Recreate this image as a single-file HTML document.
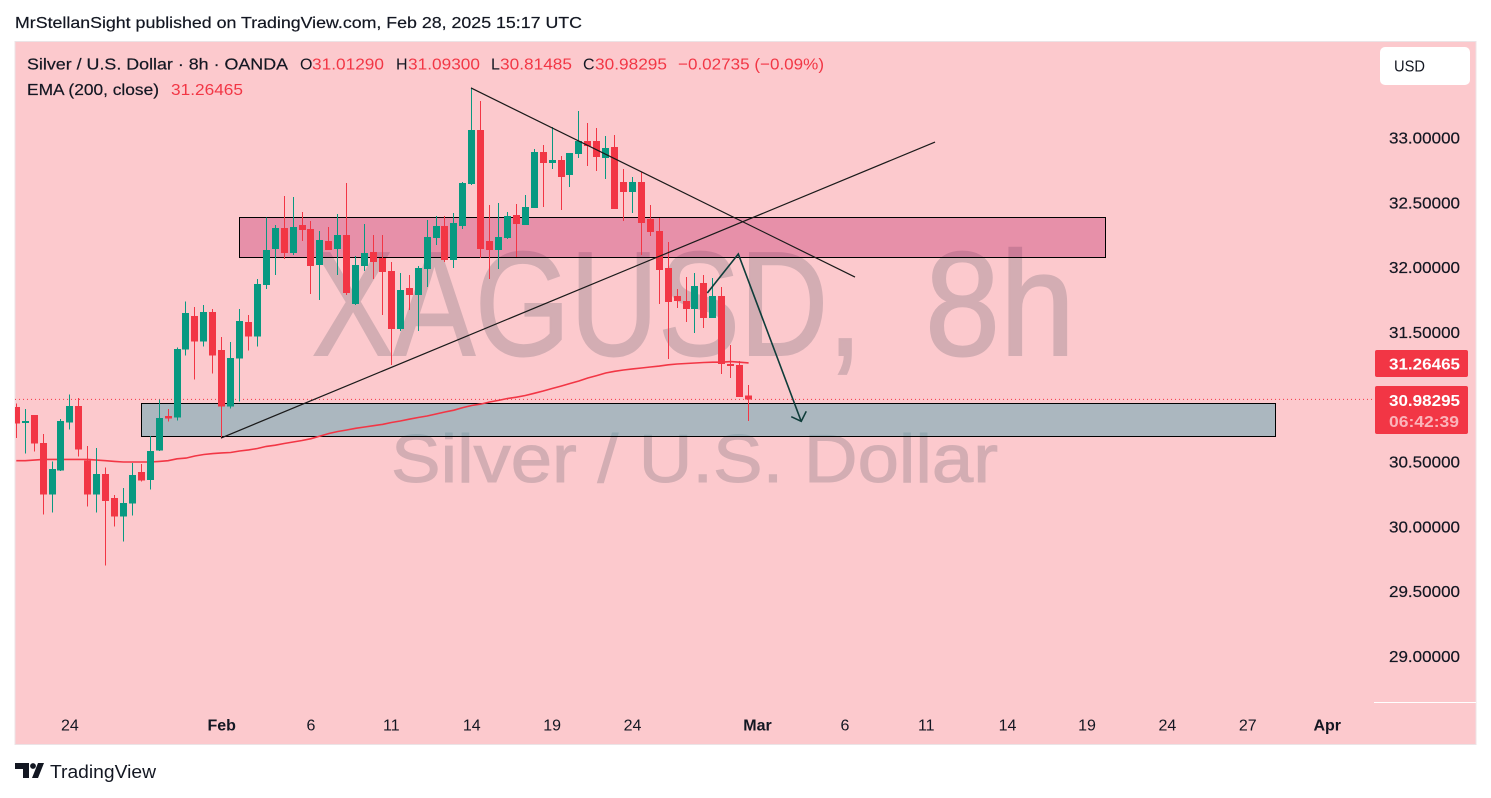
<!DOCTYPE html>
<html lang="en">
<head>
<meta charset="utf-8">
<title>XAGUSD 8h chart</title>
<style>
html,body{margin:0;padding:0;background:#fff;width:1491px;height:798px;overflow:hidden}
svg{display:block}
text{font-family:"Liberation Sans","DejaVu Sans",sans-serif}
</style>
</head>
<body>
<svg id="chart" width="1491" height="798" viewBox="0 0 1491 798" xmlns="http://www.w3.org/2000/svg">
  <defs><clipPath id="pane-clip"><rect x="15" y="42" width="1359" height="660"/></clipPath></defs>
  <text x="15" y="28" font-size="16" fill="#131722" stroke="#131722" stroke-width="0.2" textLength="567" lengthAdjust="spacingAndGlyphs">MrStellanSight published on TradingView.com, Feb 28, 2025 15:17 UTC</text>
  <rect x="15" y="41.5" width="1461" height="703" fill="#fcc9cd" stroke="#ece3e6" stroke-width="1"/>
  <g id="watermark">
    <text x="312" y="355" font-size="148" fill="#d3adb3" stroke="#d3adb3" stroke-width="2" textLength="550" lengthAdjust="spacingAndGlyphs">XAGUSD,</text>
    <text x="925" y="355" font-size="148" fill="#d3adb3" stroke="#d3adb3" stroke-width="2" textLength="150" lengthAdjust="spacingAndGlyphs">8h</text>
    <text x="391" y="482" font-size="68" fill="#d3adb3" stroke="#d3adb3" stroke-width="1" textLength="607" lengthAdjust="spacingAndGlyphs">Silver / U.S. Dollar</text>
  </g>
  <g id="zones" clip-path="url(#pane-clip)"></g>
  <line id="last-price-line" x1="15" x2="1372" stroke="#f23645" stroke-width="1" stroke-dasharray="1 3"/>
  <path id="ema-line" fill="none" stroke="#f23645" stroke-width="1.6"/>
  <g id="candles" clip-path="url(#pane-clip)"></g>
  <g id="drawings" clip-path="url(#pane-clip)"></g>

  <text x="27" y="69.5" font-size="16" fill="#131722" stroke="#131722" stroke-width="0.2" textLength="261" lengthAdjust="spacingAndGlyphs">Silver / U.S. Dollar · 8h · OANDA</text>
  <text x="300" y="69.5" font-size="16" fill="#131722">O</text>
  <text x="312" y="69.5" font-size="16" fill="#f23645" textLength="72" lengthAdjust="spacingAndGlyphs">31.01290</text>
  <text x="396" y="69.5" font-size="16" fill="#131722">H</text>
  <text x="408" y="69.5" font-size="16" fill="#f23645" textLength="72" lengthAdjust="spacingAndGlyphs">31.09300</text>
  <text x="491" y="69.5" font-size="16" fill="#131722">L</text>
  <text x="500" y="69.5" font-size="16" fill="#f23645" textLength="72" lengthAdjust="spacingAndGlyphs">30.81485</text>
  <text x="583" y="69.5" font-size="16" fill="#131722">C</text>
  <text x="595" y="69.5" font-size="16" fill="#f23645" textLength="72" lengthAdjust="spacingAndGlyphs">30.98295</text>
  <text x="678" y="69.5" font-size="16" fill="#f23645" textLength="146" lengthAdjust="spacingAndGlyphs">−0.02735 (−0.09%)</text>
  <text x="27" y="95" font-size="16" fill="#131722" stroke="#131722" stroke-width="0.2" textLength="132" lengthAdjust="spacingAndGlyphs">EMA (200, close)</text>
  <text x="171" y="95" font-size="16" fill="#f23645" textLength="72" lengthAdjust="spacingAndGlyphs">31.26465</text>

  <g>
    <rect x="1380" y="47" width="90" height="38" rx="5" fill="#ffffff"/>
    <text x="1394" y="71.5" font-size="16" fill="#131722" textLength="31" lengthAdjust="spacingAndGlyphs">USD</text>
  </g>
  <g id="price-axis"></g>
  <line x1="1374" x2="1476" y1="702.5" y2="702.5" stroke="#ffffff"/>
  <g id="time-axis"></g>

  <g>
    <rect x="1375" y="350" width="93" height="27" rx="2" fill="#f23645"/>
    <text x="1389" y="369.5" font-size="16" font-weight="bold" fill="#fff" textLength="71" lengthAdjust="spacingAndGlyphs">31.26465</text>
  </g>
  <g>
    <rect x="1375" y="386" width="93" height="48" rx="2" fill="#f23645"/>
    <text x="1389" y="406" font-size="16" font-weight="bold" fill="#fff" textLength="71" lengthAdjust="spacingAndGlyphs">30.98295</text>
    <text x="1389" y="427" font-size="16" font-weight="bold" fill="#fbb4ba" textLength="70" lengthAdjust="spacingAndGlyphs">06:42:39</text>
  </g>

  <g>
    <path d="M15 763h14v15h-6v-9h-8z" fill="#131722"/>
    <circle cx="33" cy="766" r="2.9" fill="#131722"/>
    <path d="M38 763h6l-6 15h-6z" fill="#131722"/>
    <text x="50" y="778" font-size="18" fill="#131722" textLength="106" lengthAdjust="spacingAndGlyphs">TradingView</text>
  </g>
</svg>
<script>
const opens=[30.924,30.801,30.863,30.647,30.248,30.433,30.803,30.932,30.510,30.248,30.407,30.222,30.078,30.178,30.423,30.363,30.587,30.855,30.842,31.367,31.627,31.428,31.657,31.364,30.927,31.297,31.580,31.467,31.866,32.144,32.306,32.113,32.329,32.298,32.020,32.205,32.144,32.251,31.719,32.012,32.120,32.074,31.974,31.526,31.843,31.789,31.989,32.228,32.321,32.059,32.321,32.645,33.062,32.205,32.136,32.228,32.406,32.329,32.460,32.892,32.807,32.830,32.715,32.877,32.977,32.977,32.846,32.931,32.660,32.583,32.660,32.375,32.282,31.997,31.781,31.742,31.681,31.881,31.611,31.781,31.256,31.248,31.0129];
const highs=[30.953,30.909,30.863,30.716,30.505,30.830,31.022,30.994,30.624,30.608,30.459,30.245,30.299,30.492,30.485,30.701,30.984,30.909,31.385,31.740,31.696,31.711,31.681,31.465,31.426,31.681,31.634,31.912,32.385,32.329,32.552,32.545,32.429,32.360,32.282,32.313,32.414,32.653,32.090,32.336,32.251,32.251,32.043,31.958,31.943,32.012,32.367,32.398,32.398,32.421,32.660,33.391,33.286,32.483,32.498,32.429,32.491,32.560,32.915,32.946,33.085,32.861,32.884,33.208,33.116,33.077,33.015,33.023,32.761,32.699,32.738,32.483,32.383,32.197,31.835,31.927,31.958,31.943,31.920,31.850,31.403,31.279,31.093];
const lows=[30.687,30.564,30.580,30.093,30.109,30.430,30.749,30.541,30.155,30.109,29.700,30.001,29.885,30.086,30.348,30.286,30.585,30.811,30.819,31.320,31.135,31.390,31.181,30.683,30.911,30.965,31.359,31.390,31.835,31.943,32.066,32.097,32.205,31.796,31.750,32.136,31.943,31.789,31.711,31.974,31.912,31.634,31.248,31.511,31.673,31.511,31.850,32.174,32.043,31.997,32.298,32.637,32.074,31.912,31.989,32.221,32.082,32.329,32.460,32.468,32.761,32.444,32.622,32.846,32.784,32.745,32.684,32.452,32.360,32.421,32.097,32.244,31.719,31.295,31.688,31.580,31.495,31.534,31.611,31.179,31.148,31.001,30.81485];
const closes=[30.796,30.816,30.641,30.248,30.446,30.816,30.932,30.595,30.248,30.407,30.201,30.078,30.184,30.400,30.356,30.585,30.840,30.834,31.372,31.650,31.428,31.657,31.320,30.927,31.303,31.588,31.467,31.874,32.136,32.306,32.113,32.313,32.290,32.012,32.213,32.136,32.251,31.804,32.020,32.113,32.043,31.966,31.526,31.827,31.789,31.997,32.236,32.321,32.059,32.344,32.653,33.062,32.144,32.136,32.236,32.398,32.336,32.468,32.892,32.807,32.830,32.699,32.884,32.977,32.938,32.853,32.923,32.452,32.583,32.660,32.344,32.275,31.981,31.735,31.742,31.681,31.858,31.611,31.781,31.256,31.241,31.001,30.98295];
const emaValues=[30.51,30.51,30.515,30.52,30.52,30.52,30.52,30.52,30.52,30.515,30.51,30.505,30.50,30.50,30.50,30.50,30.505,30.51,30.525,30.53,30.546,30.558,30.565,30.57,30.573,30.585,30.593,30.604,30.62,30.63,30.643,30.654,30.666,30.68,30.70,30.72,30.735,30.747,30.76,30.77,30.78,30.79,30.805,30.816,30.83,30.843,30.855,30.87,30.886,30.90,30.92,30.936,30.947,30.963,30.975,30.99,31.00,31.013,31.03,31.048,31.067,31.086,31.106,31.125,31.148,31.167,31.187,31.20,31.21,31.218,31.225,31.233,31.24,31.25,31.256,31.26,31.264,31.268,31.27,31.27,31.275,31.27,31.265];
const priceTicks=[33,32.5,32,31.5,30.5,30,29.5,29];
const timeLabels=["24","Feb","6","11","14","19","24","Mar","6","11","14","19","24","27","Apr"];
const timeLabelBars=[6,23,33,42,51,60,69,83,92.8,101.9,111,119.9,128.9,137.9,146.8];
const lastClose=30.98295;
const zoneBars=[[24.94,121.9],[13.96,140.95]];
const zonePrices=[[32.387,32.078],[30.951,30.697]];
const zoneFills=["rgba(183,12,85,.3)","rgba(89,166,177,.5)"];
const trendBars=[[22.92,102.88],[50.92,93.92]];
const trendPrices=[[30.685,32.969],[33.386,31.927]];
const arrowBars=[77.38,80.85,87.9];
const arrowPrices=[31.804,32.105,30.814];

const NS="http://www.w3.org/2000/svg";
const xScale=function(i){return 16.3+8.93*i;};
const yScale=function(p){return 138+(33-p)*129.6;};
function make(tag,parent,attrs){
  const el=document.createElementNS(NS,tag);
  for(const k in attrs){el.setAttribute(k,attrs[k]);}
  parent.appendChild(el);
  return el;
}

const zonesG=document.getElementById('zones');
zoneBars.forEach(function(b,i){
  const y1=Math.floor(yScale(zonePrices[i][0])),y2=Math.floor(yScale(zonePrices[i][1]));
  const el=make('rect',zonesG,{x:Math.round(xScale(b[0]))+0.5,y:y1+0.5,width:Math.round(xScale(b[1])-xScale(b[0])),height:y2-y1,fill:zoneFills[i],stroke:'#000','stroke-width':1});
  
  
});

const lp=document.getElementById('last-price-line');
lp.setAttribute('y1',yScale(lastClose));
lp.setAttribute('y2',yScale(lastClose));

document.getElementById('ema-line').setAttribute('d',emaValues.map(function(v,i){return (i?'L':'M')+xScale(i).toFixed(1)+' '+yScale(v).toFixed(1);}).join(''));

const candlesG=document.getElementById('candles');
opens.forEach(function(o,i){
  const c=closes[i];
  const col=c>=o?'#089981':'#f23645';
  const cx=Math.floor(xScale(i));
  const g=make('g',candlesG,{'shape-rendering':'crispEdges'});
  
  
  const top=yScale(Math.max(o,c)),bot=yScale(Math.min(o,c));
  const w=make('rect',g,{x:cx,y:yScale(highs[i]),width:1,height:Math.max(1,yScale(lows[i])-yScale(highs[i])),fill:col});
  
  
  const b=make('rect',g,{x:cx-3,y:top,width:7,height:Math.max(1.5,bot-top),fill:col});
  
  
});

const drawG=document.getElementById('drawings');
trendBars.forEach(function(b,i){
  const l=make('line',drawG,{x1:xScale(b[0]),y1:yScale(trendPrices[i][0]),x2:xScale(b[1]),y2:yScale(trendPrices[i][1]),stroke:'#1a1a1a','stroke-width':1.2});
  
  
});
const arrowPts=arrowBars.map(function(b,i){return [xScale(b),yScale(arrowPrices[i])];});
const arrow=make('path',drawG,{d:'M'+arrowPts.map(function(p){return p[0].toFixed(1)+' '+p[1].toFixed(1);}).join('L'),fill:'none',stroke:'#0f3d3a','stroke-width':1.6});


const tip=arrowPts[2];
const head=make('path',drawG,{d:'M'+(tip[0]-10)+' '+(tip[1]-4.6)+'L'+tip[0]+' '+tip[1]+'L'+(tip[0]+5)+' '+(tip[1]-10),fill:'none',stroke:'#0f3d3a','stroke-width':1.6});



const paxis=document.getElementById('price-axis');
priceTicks.forEach(function(p){
  const t=make('text',paxis,{x:1389,y:yScale(p)+5.5,'font-size':16,fill:'#131722',stroke:'#131722','stroke-width':0.2,textLength:71,lengthAdjust:'spacingAndGlyphs'});
  t.textContent=p.toFixed(5);
  
  
});

const taxis=document.getElementById('time-axis');
timeLabels.forEach(function(lab,i){
  const isMonth=/[A-Za-z]/.test(lab);
  const t=make('text',taxis,{x:xScale(timeLabelBars[i]),y:730.5,'font-size':16,fill:'#131722','text-anchor':'middle','font-weight':isMonth?'bold':'normal'});
  t.textContent=lab;
  
  
});
</script>
</body>
</html>
